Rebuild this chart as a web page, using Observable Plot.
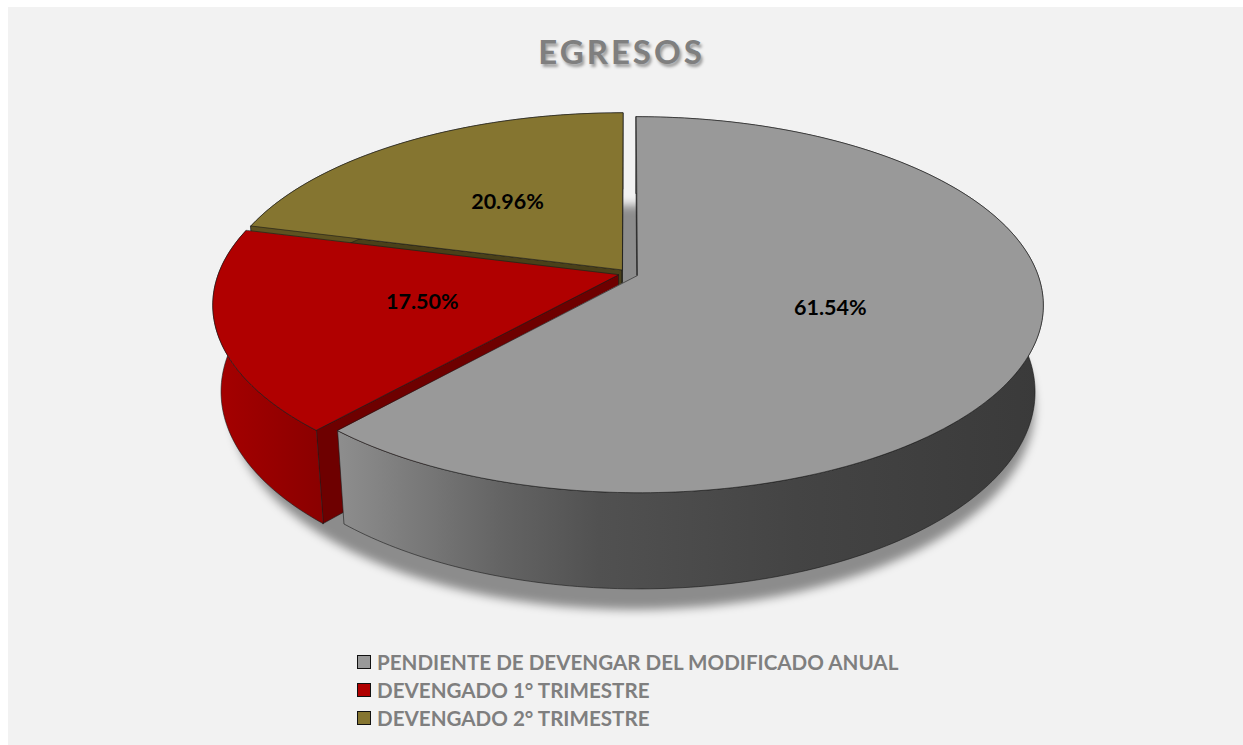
<!DOCTYPE html>
<html><head><meta charset="utf-8">
<script src="https://cdn.jsdelivr.net/npm/d3@7"></script>
<script src="https://cdn.jsdelivr.net/npm/@observablehq/plot@0.6"></script>
<style>
html,body{margin:0;padding:0;background:#fff;}
#panel{position:absolute;left:8px;top:7px;width:1235px;height:738px;background:#f2f2f2;overflow:hidden;font-family:Lato,"Open Sans",sans-serif;}
#title{position:absolute;left:0;width:1227px;top:24px;text-align:center;font-weight:700;font-size:33px;letter-spacing:3px;color:#7f7f7f;text-shadow:2px 3px 3px rgba(0,0,0,0.35);line-height:40px;}
#chart{position:absolute;left:0;top:83px;}
#legend{position:absolute;left:349px;top:641px;}
.item{display:flex;align-items:center;height:28px;font-weight:700;font-size:20.6px;color:#7f7f7f;white-space:nowrap;}
.sw{width:12px;height:12px;border:1.5px solid #111;margin-right:6px;flex:none;}
</style>
</head><body>
<div id="panel">
  <div id="title">EGRESOS</div>
  <div id="chart"></div>
  <div id="legend"></div>
</div>
<script>
// ---- data ----
const categories = ["PENDIENTE DE DEVENGAR DEL MODIFICADO ANUAL", "DEVENGADO 1° TRIMESTRE", "DEVENGADO 2° TRIMESTRE"];
const values = [61.54, 17.50, 20.96];
const title = "EGRESOS";

// ---- styles ----
const topColors  = ["#999999", "#b00000", "#857530"];
const sideFills  = ["url(#sideGray)", "url(#sideRed)", "#5e5220"];
const faceColors = ["#5e5e5e", "#6e0000", "#4a4019"];
const swatches   = ["#999999", "#b00000", "#857530"];

// ---- 3D projection ----
const tilt = 27.2 * Math.PI / 180, sinE = Math.sin(tilt), cosE = Math.cos(tilt);
const D = 5.66;          // camera distance
const H = 0.245;         // pie thickness
const EX = 0.025;        // explosion
const cam = [0, D * sinE, D * cosE];
function project(X, Y, Z) {
  const depth = D - Z * cosE - Y * sinE;
  return {x: X * D / depth, y: (-Y * cosE + Z * sinE) * D / depth};
}

const total = d3.sum(values);
let acc = 0;
const slices = values.map((v, i) => {
  const a0 = acc / total * 2 * Math.PI; acc += v;
  const a1 = acc / total * 2 * Math.PI;
  const mid = (a0 + a1) / 2;
  return {i, v, a0, a1, mid, off: [EX * Math.sin(mid), -EX * Math.cos(mid)]};
});
const rimPt = (s, t, Y, r = 1) => project(s.off[0] + r * Math.sin(t), Y, s.off[1] - r * Math.cos(t));
const ctr = (s, Y) => project(s.off[0], Y, s.off[1]);

function faceVisible(s, t, sign) {
  const n = [sign * Math.cos(t), 0, sign * Math.sin(t)];
  const p = [s.off[0], 0, s.off[1]];
  return n[0] * (cam[0] - p[0]) + n[2] * (cam[2] - p[2]) > 0;
}

const marks = [];
// soft shadow under the pie
const shadow = d3.range(0, 361, 3).map(a => project(0.012 + 1.015 * Math.sin(a * Math.PI / 180), -H - 0.05, -1.015 * Math.cos(a * Math.PI / 180)));
marks.push(Plot.line(shadow, {x: "x", y: "y", fill: "#000", fillOpacity: 0.42, stroke: "none", curve: "linear-closed"}));

const edge = {stroke: "#1a1a1a", strokeWidth: 0.7, strokeOpacity: 0.85, curve: "linear-closed"};
const drawOrder = [2, 1, 0];
for (const idx of drawOrder) {
  const s = slices[idx];
  const n = Math.max(8, Math.ceil((s.a1 - s.a0) / (Math.PI / 180)));
  const ts = d3.range(n + 1).map(k => s.a0 + (s.a1 - s.a0) * k / n);
  if (faceVisible(s, s.a0, -1)) {
    const f = [rimPt(s, s.a0, 0), ctr(s, 0), ctr(s, -H), rimPt(s, s.a0, -H)];
    marks.push(Plot.line(f, {x: "x", y: "y", fill: faceColors[idx], ...edge}));
  }
  if (faceVisible(s, s.a1, 1)) {
    const f = [ctr(s, 0), rimPt(s, s.a1, 0), rimPt(s, s.a1, -H), ctr(s, -H)];
    marks.push(Plot.line(f, {x: "x", y: "y", fill: faceColors[idx], ...edge}));
  }
  const side = ts.map(t => rimPt(s, t, 0)).concat(ts.slice().reverse().map(t => rimPt(s, t, -H)));
  marks.push(Plot.line(side, {x: "x", y: "y", fill: sideFills[idx], ...edge}));
  const top = [ctr(s, 0)].concat(ts.map(t => rimPt(s, t, 0)));
  marks.push(Plot.line(top, {x: "x", y: "y", fill: topColors[idx], ...edge}));
}
// percentage labels
const labels = slices.map(s => ({...rimPt(s, s.mid, 0, 0.5), text: s.v.toFixed(2) + "%"}));
marks.push(Plot.text(labels, {x: "x", y: "y", text: "text", fill: "#000", fontSize: 21.5, fontWeight: 700, fontFamily: "Lato, 'Open Sans', sans-serif"}));

const W = 1227, Hh = 540, K = 400, cx = 619.6, cy = 183;
const chart = Plot.plot({
  width: W, height: Hh, margin: 0,
  x: {domain: [-cx / K, (W - cx) / K], range: [0, W]},
  y: {domain: [-cy / K, (Hh - cy) / K], range: [0, Hh]},
  axis: null,
  style: {background: "transparent", overflow: "visible"},
  marks
});
const defs = `<defs>
<linearGradient id="sideGray" x1="0" x2="1" y1="0" y2="0">
<stop offset="0" stop-color="#8e8e8e"/><stop offset="0.11" stop-color="#7a7a7a"/><stop offset="0.23" stop-color="#646464"/>
<stop offset="0.37" stop-color="#515151"/><stop offset="0.65" stop-color="#444444"/><stop offset="1" stop-color="#3a3a3a"/></linearGradient>
<linearGradient id="sideRed" x1="0" x2="1" y1="0" y2="0">
<stop offset="0" stop-color="#a60000"/><stop offset="1" stop-color="#8a0000"/></linearGradient>
</defs>`;
chart.insertAdjacentHTML("afterbegin", defs);
const shadowG = chart.querySelector('g[aria-label="line"]');
if (shadowG) shadowG.setAttribute("style", "filter: blur(5px)");
document.getElementById("chart").appendChild(chart);

// legend
const legend = d3.select("#legend");
categories.forEach((c, i) => {
  const it = legend.append("div").attr("class", "item");
  it.append("div").attr("class", "sw").style("background", swatches[i]);
  it.append("span").text(c);
});
document.getElementById("title").textContent = title;
</script>
</body></html>
